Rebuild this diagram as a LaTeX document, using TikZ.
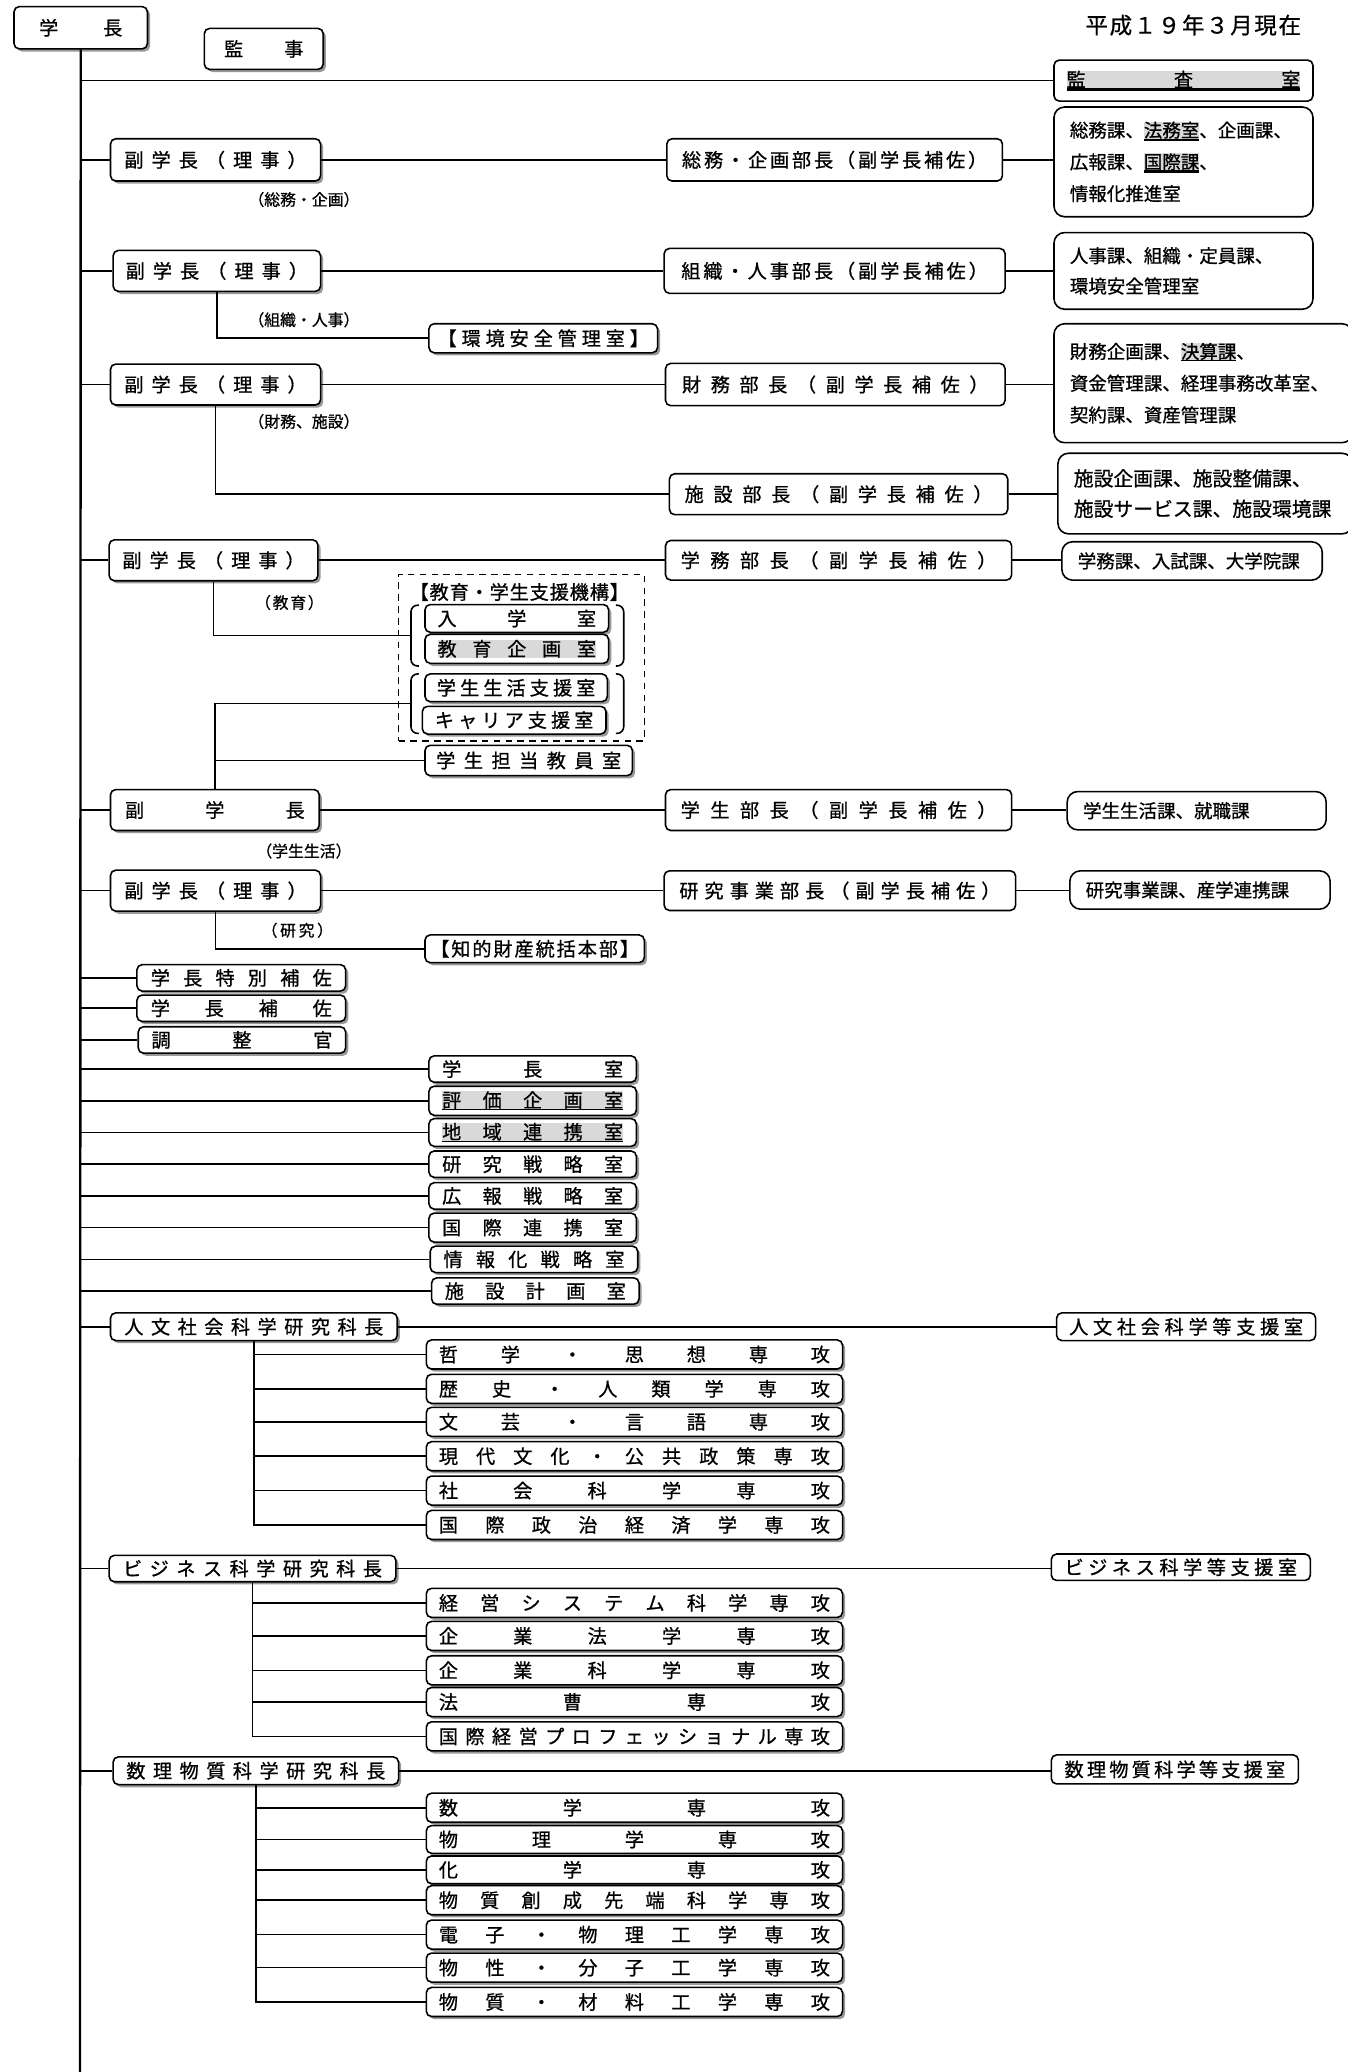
\documentclass[tikz,border=0pt]{standalone}
\usepackage{fontspec}
\setmainfont{Noto Sans CJK JP}[FakeBold=0.8]
\usetikzlibrary{shadows}
\definecolor{hlgray}{gray}{0.85}
\definecolor{shgray}{gray}{0.6}
\newcommand\fsz{\fontsize{14.5pt}{16pt}\selectfont}
\newcommand\flbl{\fontsize{12pt}{14pt}\selectfont}
\newcommand\fdate{\fontsize{17pt}{19pt}\selectfont}
\def\sprA#1{#1\sprB}
\def\sprB#1{\ifx\relax#1\else\hfill#1\expandafter\sprB\fi}
\newcommand\spr[2]{\makebox[#1pt]{\sprA#2\relax}}
\newcommand\hlu[2][1.2pt]{\begingroup\setlength{\fboxsep}{0pt}\sbox0{\colorbox{hlgray}{#2}}\rlap{\usebox0}\rlap{\rule[-\dimexpr\dp0+#1\relax]{\wd0}{#1}}\hspace*{\wd0}\endgroup}
\newcommand\hlb[1]{{\setlength{\fboxsep}{0pt}\colorbox{hlgray}{#1}}}
\newcommand\B[7][]{\node[bx,#1,minimum width=#4pt,minimum height=#6pt] (#2) at (#3,#5) {#7};}
\newcommand\Lst[7][]{\node[lst,#1,text width=#4pt,minimum height=#6pt] (#2) at (#3,#5) {#7};}
\begin{document}
\begin{tikzpicture}[x=1pt,y=-1pt,
  bx/.style={draw,line width=1.2pt,rounded corners=4pt,fill=white,inner sep=0pt,anchor=west,font=\fsz},
  shd/.style={drop shadow={shadow xshift=2pt,shadow yshift=-2pt,fill=shgray,opacity=1}},
  lst/.style={draw,line width=1.2pt,rounded corners=8pt,fill=white,anchor=west,align=left,inner xsep=12pt,inner ysep=0pt,font=\fontsize{14pt}{24pt}\selectfont},
  lbl/.style={font=\flbl,inner sep=0pt},
  ln/.style={line width=1.2pt},
  trunk/.style={line width=1.8pt}]
\clip (0,0) rectangle (1020,1568);
\fill[white] (0,0) rectangle (1020,1568);

% top
\B[shd]{top}{10}{101}{21}{32}{\spr{63}{学長}}
\B[shd]{kanji}{154}{90}{37}{31}{\spr{60}{監事}}
\B{kansa}{797}{196}{61}{31}{\hlu[2pt]{\spr{177}{監査室}}}
\node[font=\fdate,inner sep=0pt] (date) at (903,19) {\spr{163}{平成１９年３月現在}};

% row 1
\B[shd]{vp1}{83}{159}{121}{32}{\spr{138}{副学長（理事）}}
\B{bu1}{504}{254}{121}{32}{\spr{231}{総務・企画部長（副学長補佐）}}
\Lst{l1}{797}{172}{122.5}{83}{総務課、\hlu[2pt]{法務室}、企画課、\\広報課、\hlu[2pt]{国際課}、\\情報化推進室}
\node[lbl] (lab1) at (230,151) {\spr{80}{（総務・企画）}};

% row 2
\B[shd]{vp2}{85}{157}{205}{31}{\spr{138}{副学長（理事）}}
\B{bu2}{502}{258}{205}{34}{\spr{232}{組織・人事部長（副学長補佐）}}
\Lst[font=\fontsize{14pt}{23pt}\selectfont]{l2}{797}{172}{205}{58}{人事課、組織・定員課、\\環境安全管理室}
\node[lbl] (lab2) at (230,242) {\spr{80}{（組織・人事）}};
\B[shd]{kankyo}{324}{173}{256}{22}{\spr{160}{【環境安全管理室】}}

% row 3
\B[shd]{vp3}{83}{159}{291}{31}{\spr{138}{副学長（理事）}}
\B{bu3}{503}{257}{291}{32}{\spr{232}{財務部長（副学長補佐）}}
\Lst{l3}{797}{202}{290}{90}{財務企画課、\hlu[1pt]{決算課}、\\資金管理課、経理事務改革室、\\契約課、資産管理課}
\node[lbl] (lab3) at (230,319) {\spr{80}{（財務、施設）}};
\B{bu4}{506}{256}{374}{31}{\spr{233}{施設部長（副学長補佐）}}
\Lst[font=\fontsize{15pt}{23pt}\selectfont]{l4}{800}{199}{373.5}{61}{施設企画課、施設整備課、\\施設サービス課、施設環境課}

% row 4
\B[shd]{vp4}{82}{158}{424}{31}{\spr{138}{副学長（理事）}}
\B{bu5}{503}{262}{424}{30}{\spr{239}{学務部長（副学長補佐）}}
\Lst{l5}{803}{173}{424.5}{29}{学務課、入試課、大学院課}
\node[lbl] (lab4) at (219,456) {\spr{52}{（教育）}};
\node[draw,dashed,line width=1.2pt,dash pattern=on 5pt off 4pt,minimum width=186pt,minimum height=126pt,anchor=north west,inner sep=0pt] (kiko) at (301,434) {};
\node[font=\fsz,inner sep=0pt] (kikot) at (393,448) {\spr{166}{【教育・学生支援機構】}};
\B[shd]{nyu}{321}{139}{468}{21}{\spr{120}{入学室}}
\B[shd]{kyo}{321}{139}{491}{22}{\hlb{\spr{120}{教育企画室}}}
\B[shd]{sei}{321}{138}{520.5}{21}{\spr{120}{学生生活支援室}}
\B[shd]{car}{319}{139}{545}{21}{\spr{120}{キャリア支援室}}
\draw[ln,rounded corners=5pt] (317,458) -- (311,458) -- (311,504) -- (317,504);
\draw[ln,rounded corners=5pt] (466,458) -- (472,458) -- (472,504) -- (466,504);
\draw[ln,rounded corners=5pt] (317,510) -- (311,510) -- (311,555) -- (317,555);
\draw[ln,rounded corners=5pt] (466,510) -- (472,510) -- (472,555) -- (466,555);
\coordinate (br1) at (311,481);
\coordinate (br2) at (311,532.5);
\B[shd]{kyoin}{321}{157}{575.5}{23}{\spr{140}{学生担当教員室}}

% row 5
\B[shd]{vp5}{83}{158}{613}{31}{\spr{136}{副学長}}
\B{bu6}{503}{262}{613}{31}{\spr{239}{学生部長（副学長補佐）}}
\Lst{l6}{807}{172}{613.5}{29}{学生生活課、就職課}
\node[lbl] (lab5) at (230,644) {\spr{64}{（学生生活）}};

% row 6
\B[shd]{vp6}{83}{159}{674}{31}{\spr{138}{副学長（理事）}}
\B{bu7}{502}{266}{674}{30}{\spr{243}{研究事業部長（副学長補佐）}}
\Lst{l7}{809}{173}{673.5}{29}{研究事業課、産学連携課}
\node[lbl] (lab6) at (225,704) {\spr{54}{（研究）}};
\B[shd]{chizai}{321}{166}{718}{21}{\spr{158}{【知的財産統括本部】}}

% middle stack
\B[shd]{m1}{103}{158}{740}{20}{\spr{137}{学長特別補佐}}
\B[shd]{m2}{103}{158}{763}{20}{\spr{137}{学長補佐}}
\B[shd]{m3}{104}{157}{787}{20}{\spr{137}{調整官}}
\B[shd]{r1}{324}{157}{809}{20}{\spr{137}{学長室}}
\B[shd]{r2}{324}{157}{833}{22}{\hlu[1pt]{\spr{137}{評価企画室}}}
\B[shd]{r3}{324}{157}{857}{21}{\hlu[1pt]{\spr{137}{地域連携室}}}
\B[shd]{r4}{324}{157}{881}{20}{\spr{137}{研究戦略室}}
\B[shd]{r5}{324}{157}{905}{20}{\spr{137}{広報戦略室}}
\B[shd]{r6}{324}{157}{929}{22}{\spr{137}{国際連携室}}
\B[shd]{r7}{325}{157}{953}{20}{\spr{137}{情報化戦略室}}
\B[shd]{r8}{326}{157}{977}{20}{\spr{137}{施設計画室}}

% graduate school 1
\B[shd]{g1}{83}{217}{1004}{21}{\spr{196}{人文社会科学研究科長}}
\B{s1}{799}{196}{1004}{21}{\spr{177}{人文社会科学等支援室}}
\B[shd]{a1}{322}{315}{1025}{22}{\spr{296}{哲学・思想専攻}}
\B[shd]{a2}{322}{315}{1051}{22}{\spr{296}{歴史・人類学専攻}}
\B[shd]{a3}{322}{315}{1076}{22}{\spr{296}{文芸・言語専攻}}
\B[shd]{a4}{322}{315}{1102}{22}{\spr{296}{現代文化・公共政策専攻}}
\B[shd]{a5}{322}{315}{1128}{22}{\spr{296}{社会科学専攻}}
\B[shd]{a6}{322}{315}{1154}{22}{\spr{296}{国際政治経済学専攻}}

% graduate school 2
\B[shd]{g2}{82}{217}{1187}{20}{\spr{196}{ビジネス科学研究科長}}
\B{s2}{795}{196}{1186}{20}{\spr{176}{ビジネス科学等支援室}}
\B[shd]{b1}{322}{315}{1213}{22}{\spr{296}{経営システム科学専攻}}
\B[shd]{b2}{322}{315}{1238}{22}{\spr{296}{企業法学専攻}}
\B[shd]{b3}{322}{315}{1264}{22}{\spr{296}{企業科学専攻}}
\B[shd]{b4}{322}{315}{1288}{22}{\spr{296}{法曹専攻}}
\B[shd]{b5}{322}{315}{1314}{22}{\spr{296}{国際経営プロフェッショナル専攻}}

% graduate school 3
\B[shd]{g3}{85}{216}{1340}{21}{\spr{196}{数理物質科学研究科長}}
\B{s3}{795}{187}{1339}{22}{\spr{167}{数理物質科学等支援室}}
\B[shd]{c1}{322}{315}{1368}{22}{\spr{296}{数学専攻}}
\B[shd]{c2}{322}{315}{1392}{21}{\spr{296}{物理学専攻}}
\B[shd]{c3}{322}{315}{1415}{21}{\spr{296}{化学専攻}}
\B[shd]{c4}{322}{315}{1438}{22}{\spr{296}{物質創成先端科学専攻}}
\B[shd]{c5}{322}{315}{1464}{22}{\spr{296}{電子・物理工学専攻}}
\B[shd]{c6}{322}{315}{1489}{22}{\spr{296}{物性・分子工学専攻}}
\B[shd]{c7}{322}{315}{1515}{22}{\spr{296}{物質・材料工学専攻}}

% connectors
\coordinate (tend) at (60.5,1570);
\draw[trunk] (top.south) -- (tend);
\foreach \n in {kansa,vp1,vp2,vp3,vp4,vp5,vp6,m1,m2,m3,r1,r2,r3,r4,r5,r6,r7,r8,g1,g2,g3}
  \draw[ln] (\n.west -| top.south) -- (\n.west);
\foreach \a/\b/\c in {vp1/bu1/l1,vp2/bu2/l2,vp3/bu3/l3,vp4/bu5/l5,vp5/bu6/l6,vp6/bu7/l7}{
  \draw[ln] (\a.east) -- (\a.east -| \b.west);
  \draw[ln] (\b.east) -- (\b.east -| \c.west);
}
\draw[ln] (bu4.east) -- (bu4.east -| l4.west);
\draw[ln] (vp2.south) |- (kankyo.west);
\draw[ln] (vp3.south) |- (bu4.west);
\draw[ln] (vp4.south) |- (br1);
\draw[ln] (vp5.north) |- (br2);
\draw[ln] (vp5.north |- kyoin.west) -- (kyoin.west);
\draw[ln] (vp6.south) |- (chizai.west);
\foreach \g/\s in {g1/s1,g2/s2,g3/s3}
  \draw[ln] (\g.east) -- (\g.east -| \s.west);
\draw[ln] (g1.south) |- (a6.west);
\foreach \n in {a1,a2,a3,a4,a5} \draw[ln] (\n.west -| g1.south) -- (\n.west);
\draw[ln] (g2.south) |- (b5.west);
\foreach \n in {b1,b2,b3,b4} \draw[ln] (\n.west -| g2.south) -- (\n.west);
\draw[ln] (g3.south) |- (c7.west);
\foreach \n in {c1,c2,c3,c4,c5,c6} \draw[ln] (\n.west -| g3.south) -- (\n.west);
\end{tikzpicture}
\end{document}
